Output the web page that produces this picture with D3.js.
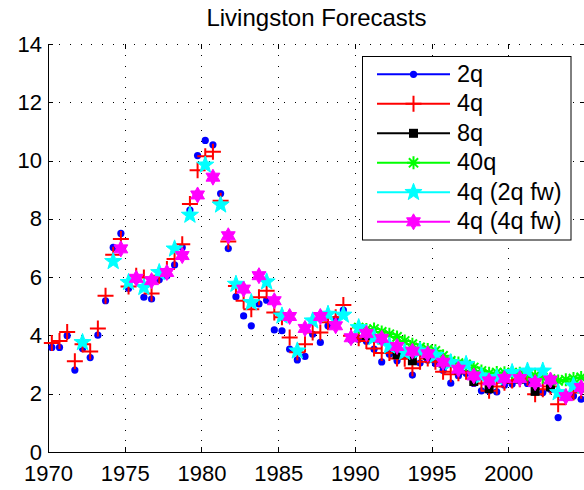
<!DOCTYPE html>
<html>
<head>
<meta charset="utf-8">
<script src="https://cdn.jsdelivr.net/npm/d3@7"></script>
<style>
body { margin: 0; background: #fff; }
text { font-family: "Liberation Sans", Arial, Helvetica, sans-serif; fill: #000; }
</style>
</head>
<body>
<div id="chart"></div>
<script>
// survey dates (half-yearly, June / December)
var dates2q = d3.range(1970.25, 2005, 0.5);
var values2q = [3.59, 3.59, 3.99, 2.81, 3.55, 3.24, 4.01, 5.19, 7.02, 7.50,
                5.61, 5.90, 5.31, 5.25, 5.91, 6.05, 6.42, 7.02, 8.30, 10.17,
                10.69, 10.54, 8.87, 6.98, 5.33, 4.67, 4.33, 5.08, 5.21, 4.19,
                4.16, 3.53, 3.16, 3.28, 4.04, 3.76, 4.33, 4.56, 4.87, 3.85,
                3.87, 3.80, 3.53, 3.09, 3.35, 3.13, 3.30, 2.64, 3.05, 3.15,
                3.04, 2.80, 2.36, 2.62, 2.70, 2.35, 2.10, 2.10, 2.06, 2.29,
                2.33, 2.45, 2.35, 2.10, 2.04, 2.15, 1.18, 1.85, 1.92, 1.81];

var dates4q = d3.range(1970.25, 2005, 0.5);
var values4q = [3.74, 3.81, 4.12, 3.11, 3.70, 3.45, 4.24, 5.36, 6.77, 7.31,
                5.68, 6.05, 5.99, 5.44, 6.05, 6.28, 6.62, 7.13, 8.51, 9.67,
                10.15, 10.30, 8.62, 7.22, 5.70, 5.19, 4.90, 5.31, 5.53, 4.79,
                4.62, 3.93, 3.42, 3.70, 4.10, 4.10, 4.45, 4.62, 5.04, 3.99,
                3.90, 3.81, 3.55, 3.40, 3.40, 3.21, 3.20, 2.87, 3.10, 3.21,
                3.10, 2.75, 2.67, 2.70, 2.75, 2.52, 2.35, 2.10, 2.25, 2.38,
                2.45, 2.50, 2.55, 1.98, 2.15, 2.25, 1.64, 1.90, 2.04, 2.10];

var dates8q = d3.range(1990.75, 2005, 1);
var values8q = [4.00, 3.85, 3.34, 3.13, 3.32, 3.05, 2.82, 2.42, 2.17, 2.50,
                2.50, 2.08, 2.23, 1.92, 2.20];

var dates40q = d3.range(1990.25, 2005, 0.5);
var values40q = [4.27, 4.20, 4.22, 4.12, 4.04, 3.95, 3.81, 3.70, 3.59, 3.52,
                 3.47, 3.30, 3.13, 3.05, 3.01, 2.90, 2.78, 2.70, 2.73, 2.72,
                 2.73, 2.70, 2.67, 2.62, 2.56, 2.50, 2.44, 2.48, 2.52, 2.56];

var dates2fw = d3.range(1972.25, 2005, 1);
var values2fw = [3.76, null, 6.54, 5.82, 5.65, 6.16, 6.97, 8.13, 9.85, 8.48,
                 5.76, 5.13, 5.84, 4.67, 3.47, 4.50, 4.73, 4.70, 4.27, 3.93,
                 3.64, 3.42, 3.47, 3.32, 3.07, 3.01, 2.61, 2.56, 2.73, 2.78,
                 2.78, 2.04, 2.27];

var dates4fw = d3.range(1974.75, 2005, 1);
var values4fw = [6.97, 5.96, 5.88, 6.16, 6.74, 8.82, 9.43, 7.42, 5.59, 6.05,
                 5.19, 4.65, 4.24, 4.65, 4.33, 3.92, 4.07, 3.90, 3.62, 3.46,
                 3.37, 3.08, 2.84, 2.61, 2.44, 2.52, 2.52, 2.38, 2.47, 1.90,
                 2.21];

var seriesNames = ["2q", "4q", "8q", "40q", "4q (2q fw)", "4q (4q fw)"];
var seriesColors = ["#0000ff", "#ff0000", "#000000", "#00ff00", "#00ffff", "#ff00ff"];
var seriesMarkers = ["dot", "plus", "square", "asterisk", "pentagram", "hexagram"];

var xTicks = [1970, 1975, 1980, 1985, 1990, 1995, 2000];
var yTicks = [0, 2, 4, 6, 8, 10, 12, 14];

// marker shapes (MATLAB style)
function starPath(points, outer, inner) {
    var p = [];
    for (var i = 0; i < points * 2; i++) {
        var r = i % 2 == 0 ? outer : inner;
        var a = -Math.PI / 2 + i * Math.PI / points;
        p.push([r * Math.cos(a), r * Math.sin(a)]);
    }
    return "M" + p.join("L") + "Z";
}

function drawMarker(g, type, color) {
    if (type == "dot") {
        g.append("circle").attr("r", 3.6).attr("fill", color);
    } else if (type == "plus") {
        g.append("path").attr("d", "M-8,0H8M0,-8V8")
            .attr("stroke", color).attr("stroke-width", 2).attr("fill", "none");
    } else if (type == "square") {
        g.append("rect").attr("x", -4.5).attr("y", -4.5).attr("width", 9).attr("height", 9)
            .attr("fill", color);
    } else if (type == "asterisk") {
        g.append("path").attr("d", "M-6.5,0H6.5M0,-6.5V6.5M-4.6,-4.6L4.6,4.6M-4.6,4.6L4.6,-4.6")
            .attr("stroke", color).attr("stroke-width", 2).attr("fill", "none");
    } else if (type == "pentagram") {
        g.append("path").attr("d", starPath(5, 9, 3.7))
            .attr("fill", color).attr("stroke", color).attr("stroke-width", 1);
    } else {
        g.append("path").attr("d", starPath(6, 8, 4.6))
            .attr("fill", color).attr("stroke", color).attr("stroke-width", 1);
    }
}

function drawChart() {

    var allDates = [dates2q, dates4q, dates8q, dates40q, dates2fw, dates4fw];
    var allValues = [values2q, values4q, values8q, values40q, values2fw, values4fw];

    // Set svg
    var svg = d3.select("#chart")
        .append("svg")
        .attr("width", 584)
        .attr("height", 490);

    var x = d3.scaleLinear().domain([1970, 2005]).range([48, 585]);
    var y = d3.scaleLinear().domain([0, 14]).range([452, 44]);

    // dotted grid
    var grid = svg.append("g")
        .attr("stroke", "#000")
        .attr("stroke-width", 1)
        .attr("stroke-dasharray", "1,9.7")
        .attr("shape-rendering", "crispEdges");

    grid.selectAll(".hgrid").data(yTicks.slice(1)).enter()
        .append("line")
        .attr("x1", x(1970) + 0.5).attr("x2", x(2005))
        .attr("y1", function(d) { return y(d) + 0.5; })
        .attr("y2", function(d) { return y(d) + 0.5; });

    grid.selectAll(".vgrid").data(xTicks.slice(1)).enter()
        .append("line")
        .attr("x1", function(d) { return x(d) + 0.5; })
        .attr("x2", function(d) { return x(d) + 0.5; })
        .attr("y1", y(0)).attr("y2", y(14));

    // axes
    var xAxis = svg.append("g")
        .attr("transform", "translate(0," + y(0) + ")")
        .call(d3.axisBottom(x).tickValues(xTicks).tickFormat(d3.format("d"))
            .tickSize(-5).tickSizeOuter(0).tickPadding(13));

    var xAxisTop = svg.append("g")
        .attr("transform", "translate(0," + y(14) + ")")
        .call(d3.axisTop(x).tickValues(xTicks).tickFormat("").tickSize(-5).tickSizeOuter(0));
    xAxisTop.select(".domain").remove();

    var yAxis = svg.append("g")
        .attr("transform", "translate(" + x(1970) + ",0)")
        .call(d3.axisLeft(y).tickValues(yTicks).tickSize(-5).tickSizeOuter(0).tickPadding(6));

    var yAxisRight = svg.append("g")
        .attr("transform", "translate(" + x(2005) + ",0)")
        .call(d3.axisRight(y).tickValues(yTicks).tickFormat("").tickSize(-5).tickSizeOuter(0));
    yAxisRight.select(".domain").remove();

    svg.selectAll(".domain").attr("stroke", "#000").attr("shape-rendering", "crispEdges");
    svg.selectAll(".tick line").attr("stroke", "#000").attr("shape-rendering", "crispEdges");
    [xAxis, yAxis].forEach(function(a) {
        a.attr("font-family", null).attr("font-size", null)
         .selectAll("text").style("font-size", "22px").attr("fill", "#000");
    });

    // markers, one series after the other
    for (var s = 0; s < seriesNames.length; s++) {
        var pts = allDates[s].map(function(d, i) { return {date: d, value: allValues[s][i]}; })
            .filter(function(d) { return d.value != null; });

        var layer = svg.append("g").attr("class", "series");
        var marks = layer.selectAll("g").data(pts).enter()
            .append("g")
            .attr("transform", function(d) { return "translate(" + x(d.date) + "," + y(d.value) + ")"; });
        var type = seriesMarkers[s], color = seriesColors[s];
        marks.each(function() { drawMarker(d3.select(this), type, color); });
    }

    // title
    svg.append("text")
        .attr("x", (x(1970) + x(2005)) / 2)
        .attr("y", 26)
        .attr("text-anchor", "middle")
        .style("font-size", "24px")
        .text("Livingston Forecasts");

    // legend
    var legend = svg.append("g");
    legend.append("rect")
        .attr("x", 362.5).attr("y", 56.5)
        .attr("width", 208.5).attr("height", 183.5)
        .attr("fill", "#fff").attr("stroke", "#000").attr("stroke-width", 1);

    var entry = legend.selectAll(".entry").data(seriesNames).enter()
        .append("g")
        .attr("transform", function(d, i) { return "translate(0," + (74.3 + i * 29.5) + ")"; });

    entry.append("line")
        .attr("x1", 377).attr("x2", 450)
        .attr("stroke", function(d, i) { return seriesColors[i]; })
        .attr("stroke-width", 2);

    entry.each(function(d, i) {
        var g = d3.select(this).append("g").attr("transform", "translate(413.5,0)");
        drawMarker(g, seriesMarkers[i], seriesColors[i]);
    });

    entry.append("text")
        .attr("x", 457)
        .attr("y", 7.6)
        .style("font-size", "23.5px")
        .text(function(d) { return d; });
}

drawChart();
</script>
</body>
</html>
